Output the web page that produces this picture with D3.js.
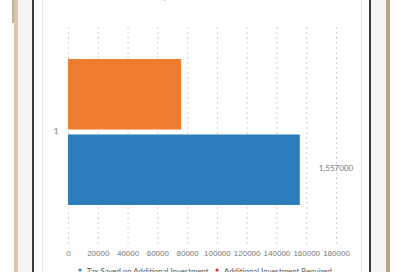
<!DOCTYPE html>
<html>
<head>
<meta charset="utf-8">
<script src="https://cdn.jsdelivr.net/npm/d3@7"></script>
<style>
  html, body { margin: 0; padding: 0; background: #fff; }
  svg { display: block; font-family: Lato, "Noto Sans", sans-serif; }
</style>
</head>
<body>
<div id="chart"></div>
<script>
// chart data
const categories = ["1"];
const seriesNames = ["Additional Investment Required", "Tax Saved on Additional Investment"];
const seriesValues = [76000, 155700];
const seriesColors = ["#ee7d31", "#2b7cb9"];
const legendColors = ["#2b7cb9", "#d62728"];
const legendOrder = [1, 0];
const xTicks = [0, 20000, 40000, 60000, 80000, 100000, 120000, 140000, 160000, 180000];
const valueLabel = "1,557000";
const titleText = "Additional Investment Required vs Tax Saved on Additional Investment";

const width = 400, height = 272;
const svg = d3.select("#chart").append("svg")
    .attr("width", width)
    .attr("height", height);

// phone frame around the chart
const frame = svg.append("g");
frame.append("rect").attr("x", 12).attr("y", 0).attr("width", 3).attr("height", 23).attr("fill", "#bdb3a6");
frame.append("rect").attr("x", 14).attr("y", 0).attr("width", 4).attr("height", height).attr("fill", "#dcc4a6");
frame.append("rect").attr("x", 18).attr("y", 0).attr("width", 14).attr("height", height).attr("fill", "#f4f4f4");
frame.append("rect").attr("x", 32).attr("y", 0).attr("width", 2).attr("height", height).attr("fill", "#3a3a3a");
frame.append("rect").attr("x", 42).attr("y", 0).attr("width", 1).attr("height", height).attr("fill", "#e6e6e6");
frame.append("rect").attr("x", 361).attr("y", 0).attr("width", 1).attr("height", height).attr("fill", "#e6e6e6");
frame.append("rect").attr("x", 369).attr("y", 0).attr("width", 2).attr("height", height).attr("fill", "#3a3a3a");
frame.append("rect").attr("x", 371).attr("y", 0).attr("width", 15).attr("height", height).attr("fill", "#f4f4f4");
frame.append("rect").attr("x", 386).attr("y", 0).attr("width", 4).attr("height", height).attr("fill", "#bca383");

// title, mostly scrolled off the top
svg.append("text")
    .attr("x", 200)
    .attr("y", -1)
    .attr("text-anchor", "middle")
    .style("font-size", "9px")
    .style("fill", "#888")
    .text(titleText);

const x = d3.scaleLinear()
    .domain([0, 180000])
    .range([68, 336]);

const y = d3.scaleBand()
    .domain(categories)
    .range([24, 240])
    .paddingOuter(0.24);

const ySub = d3.scaleBand()
    .domain(seriesNames)
    .range([0, y.bandwidth()])
    .paddingInner(0.066);

// grid + bottom axis
const xAxis = svg.append("g")
    .attr("transform", "translate(0,244)")
    .call(d3.axisBottom(x).tickValues(xTicks).tickSize(-220).tickPadding(6).tickFormat(d => d));
xAxis.select(".domain").remove();
xAxis.selectAll("line")
    .attr("stroke", "#cfcfcf")
    .attr("stroke-dasharray", "2,3");
xAxis.selectAll("text")
    .style("font-size", "8px")
    .style("fill", "#777");

// category label
svg.selectAll(".cat")
    .data(categories)
    .enter().append("text")
    .attr("x", 56)
    .attr("y", d => y(d) + y.bandwidth() / 2 - 1)
    .attr("dy", "0.35em")
    .attr("text-anchor", "middle")
    .style("font-size", "8px")
    .style("fill", "#777")
    .text(d => d);

// bars
const bars = seriesNames.map((name, i) => ({ name: name, value: seriesValues[i], color: seriesColors[i] }));
svg.selectAll(".bar")
    .data(bars)
    .enter().append("rect")
    .attr("x", x(0))
    .attr("y", d => y(categories[0]) + ySub(d.name))
    .attr("width", d => x(d.value) - x(0))
    .attr("height", ySub.bandwidth())
    .attr("fill", d => d.color);

// value label beside the blue bar
svg.append("text")
    .attr("x", x(180000))
    .attr("y", y(categories[0]) + ySub(seriesNames[1]) + ySub.bandwidth() / 2 - 2)
    .attr("dy", "0.35em")
    .attr("text-anchor", "middle")
    .style("font-size", "8px")
    .style("fill", "#777")
    .text(valueLabel);

// legend, cut by the bottom edge
const legendX = [80, 217];
legendOrder.forEach((s, i) => {
    svg.append("circle")
        .attr("cx", legendX[i])
        .attr("cy", 270)
        .attr("r", 1.5)
        .attr("fill", legendColors[i]);
    svg.append("text")
        .attr("x", legendX[i] + 7)
        .attr("y", 274)
        .style("font-size", "7.8px")
        .style("fill", "#555")
        .text(seriesNames[s]);
});
</script>
</body>
</html>
